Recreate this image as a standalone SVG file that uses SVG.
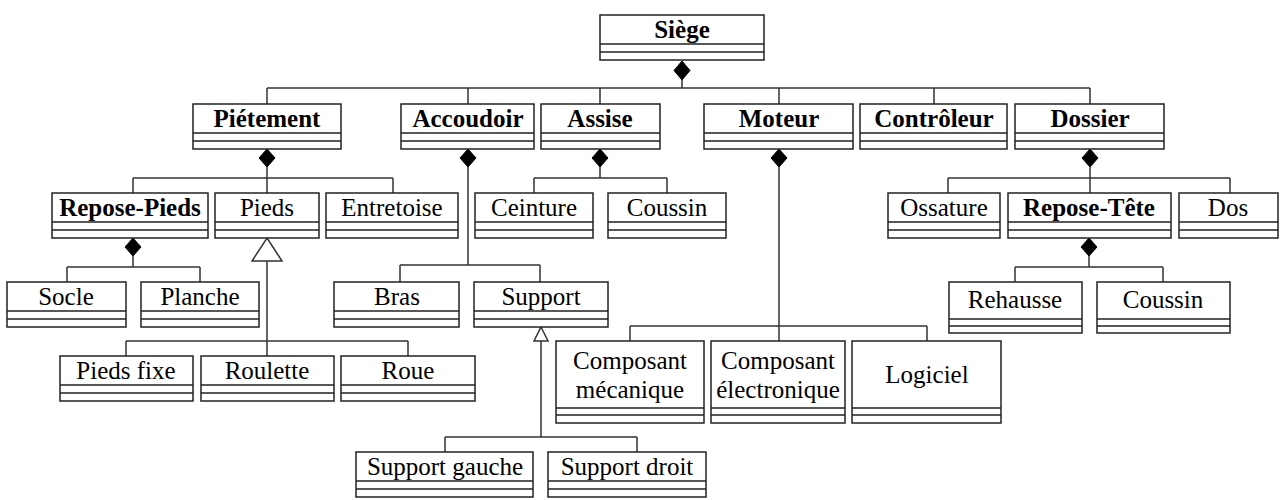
<svg xmlns="http://www.w3.org/2000/svg" width="1283" height="500" viewBox="0 0 1283 500">
<style>
.box{fill:#fff;stroke:#222;stroke-width:1.5}
.sep{stroke:#222;stroke-width:1.5;fill:none}
text{font-family:'Liberation Serif','Times New Roman','DejaVu Serif',serif;font-size:25px;fill:#000;text-anchor:middle}
.b{font-weight:bold}
.c{stroke:#333;stroke-width:1.5;fill:none}
.dia{fill:#000;stroke:#000;stroke-width:1}
.tri{fill:#fff;stroke:#333;stroke-width:1.5}
</style>
<rect width="1283" height="500" fill="#fff"/>
<g id="connectors">
<path class="c" d="M682 80V88M267 88H1090M267 88V104M468 88V104M600 88V104M779 88V104M934 88V104M1090 88V104"/>
<polygon class="dia" points="682,61 690,70.5 682,80 674,70.5"/>
<path class="c" d="M267 167V178M133 178H393M133 178V193M267 178V193M393 178V193"/>
<polygon class="dia" points="267,149 275,158 267,167 259,158"/>
<path class="c" d="M468 167V265M400 265H540M400 265V282M540 265V282"/>
<polygon class="dia" points="468,149 476,158 468,167 460,158"/>
<path class="c" d="M600 167V178M534 178H667M534 178V193M667 178V193"/>
<polygon class="dia" points="600,149 608,158 600,167 592,158"/>
<path class="c" d="M779 167V341M630 326H927M630 326V341M927 326V341"/>
<polygon class="dia" points="779,149 787,158 779,167 771,158"/>
<path class="c" d="M1090 167V193M948 178H1230M948 178V193M1230 178V193"/>
<polygon class="dia" points="1090,149 1098,158 1090,167 1082,158"/>
<path class="c" d="M133 256V267M67 267H200M67 267V282M200 267V282"/>
<polygon class="dia" points="133,238 141,247 133,256 125,247"/>
<path class="c" d="M1089 256V267M1015 267H1163M1015 267V282M1163 267V282"/>
<polygon class="dia" points="1089,238 1097,247 1089,256 1081,247"/>
<path class="c" d="M267 261V356M126 341H408M126 341V356M408 341V356"/>
<polygon class="tri" points="267,238 282,261 252,261"/>
<path class="c" d="M541 341V437M445 437H637M445 437V452M637 437V452"/>
<polygon class="tri" points="541,327 548,341 534,341"/>
</g>
<g id="siege"><rect class="box" x="600" y="15" width="164" height="45"/><path class="sep" d="M600 44H764M600 52H764"/><text class="b" x="682" y="38">Siège</text></g>
<g id="pietement"><rect class="box" x="193" y="104" width="148" height="45"/><path class="sep" d="M193 133H341M193 141H341"/><text class="b" x="267" y="127">Piétement</text></g>
<g id="accoudoir"><rect class="box" x="401" y="104" width="133" height="45"/><path class="sep" d="M401 133H534M401 141H534"/><text class="b" x="468" y="127">Accoudoir</text></g>
<g id="assise"><rect class="box" x="541" y="104" width="119" height="45"/><path class="sep" d="M541 133H660M541 141H660"/><text class="b" x="600" y="127">Assise</text></g>
<g id="moteur"><rect class="box" x="704" y="104" width="149" height="45"/><path class="sep" d="M704 133H853M704 141H853"/><text class="b" x="779" y="127">Moteur</text></g>
<g id="controleur"><rect class="box" x="860" y="104" width="147" height="45"/><path class="sep" d="M860 133H1007M860 141H1007"/><text class="b" x="934" y="127">Contrôleur</text></g>
<g id="dossier"><rect class="box" x="1015" y="104" width="149" height="45"/><path class="sep" d="M1015 133H1164M1015 141H1164"/><text class="b" x="1090" y="127">Dossier</text></g>
<g id="repose-pieds"><rect class="box" x="52" y="193" width="156" height="45"/><path class="sep" d="M52 222H208M52 230H208"/><text class="b" x="130" y="216">Repose-Pieds</text></g>
<g id="pieds"><rect class="box" x="215" y="193" width="104" height="45"/><path class="sep" d="M215 222H319M215 230H319"/><text x="267" y="216">Pieds</text></g>
<g id="entretoise"><rect class="box" x="326" y="193" width="132" height="45"/><path class="sep" d="M326 222H458M326 230H458"/><text x="392" y="216">Entretoise</text></g>
<g id="ceinture"><rect class="box" x="475" y="193" width="118" height="45"/><path class="sep" d="M475 222H593M475 230H593"/><text x="534" y="216">Ceinture</text></g>
<g id="coussin-assise"><rect class="box" x="608" y="193" width="118" height="45"/><path class="sep" d="M608 222H726M608 230H726"/><text x="667" y="216">Coussin</text></g>
<g id="ossature"><rect class="box" x="888" y="193" width="112" height="45"/><path class="sep" d="M888 222H1000M888 230H1000"/><text x="944" y="216">Ossature</text></g>
<g id="repose-tete"><rect class="box" x="1008" y="193" width="163" height="45"/><path class="sep" d="M1008 222H1171M1008 230H1171"/><text class="b" x="1089" y="216">Repose-Tête</text></g>
<g id="dos"><rect class="box" x="1179" y="193" width="99" height="45"/><path class="sep" d="M1179 222H1278M1179 230H1278"/><text x="1228" y="216">Dos</text></g>
<g id="socle"><rect class="box" x="7" y="282" width="119" height="45"/><path class="sep" d="M7 311H126M7 319H126"/><text x="66" y="305">Socle</text></g>
<g id="planche"><rect class="box" x="141" y="282" width="118" height="45"/><path class="sep" d="M141 311H259M141 319H259"/><text x="200" y="305">Planche</text></g>
<g id="bras"><rect class="box" x="334" y="282" width="125" height="45"/><path class="sep" d="M334 311H459M334 319H459"/><text x="397" y="305">Bras</text></g>
<g id="support"><rect class="box" x="474" y="282" width="134" height="45"/><path class="sep" d="M474 311H608M474 319H608"/><text x="541" y="305">Support</text></g>
<g id="rehausse"><rect class="box" x="949" y="282" width="133" height="51"/><path class="sep" d="M949 319H1082M949 326H1082"/><text x="1015" y="308">Rehausse</text></g>
<g id="coussin-tete"><rect class="box" x="1097" y="282" width="133" height="51"/><path class="sep" d="M1097 319H1230M1097 326H1230"/><text x="1163" y="308">Coussin</text></g>
<g id="pieds-fixe"><rect class="box" x="60" y="356" width="133" height="45"/><path class="sep" d="M60 385H193M60 393H193"/><text x="126" y="379">Pieds fixe</text></g>
<g id="roulette"><rect class="box" x="201" y="356" width="133" height="45"/><path class="sep" d="M201 385H334M201 393H334"/><text x="267" y="379">Roulette</text></g>
<g id="roue"><rect class="box" x="341" y="356" width="134" height="45"/><path class="sep" d="M341 385H475M341 393H475"/><text x="408" y="379">Roue</text></g>
<g id="composant-mecanique"><rect class="box" x="556" y="341" width="148" height="82"/><path class="sep" d="M556 408H704M556 415H704"/><text x="630" y="369">Composant</text><text x="630" y="398">mécanique</text></g>
<g id="composant-electronique"><rect class="box" x="711" y="341" width="134" height="82"/><path class="sep" d="M711 408H845M711 415H845"/><text x="778" y="369">Composant</text><text x="778" y="398">électronique</text></g>
<g id="logiciel"><rect class="box" x="852" y="341" width="149" height="82"/><path class="sep" d="M852 408H1001M852 415H1001"/><text x="927" y="383">Logiciel</text></g>
<g id="support-gauche"><rect class="box" x="356" y="452" width="177" height="45"/><path class="sep" d="M356 481H533M356 489H533"/><text x="445" y="475">Support gauche</text></g>
<g id="support-droit"><rect class="box" x="548" y="452" width="158" height="45"/><path class="sep" d="M548 481H706M548 489H706"/><text x="627" y="475">Support droit</text></g>
</svg>
